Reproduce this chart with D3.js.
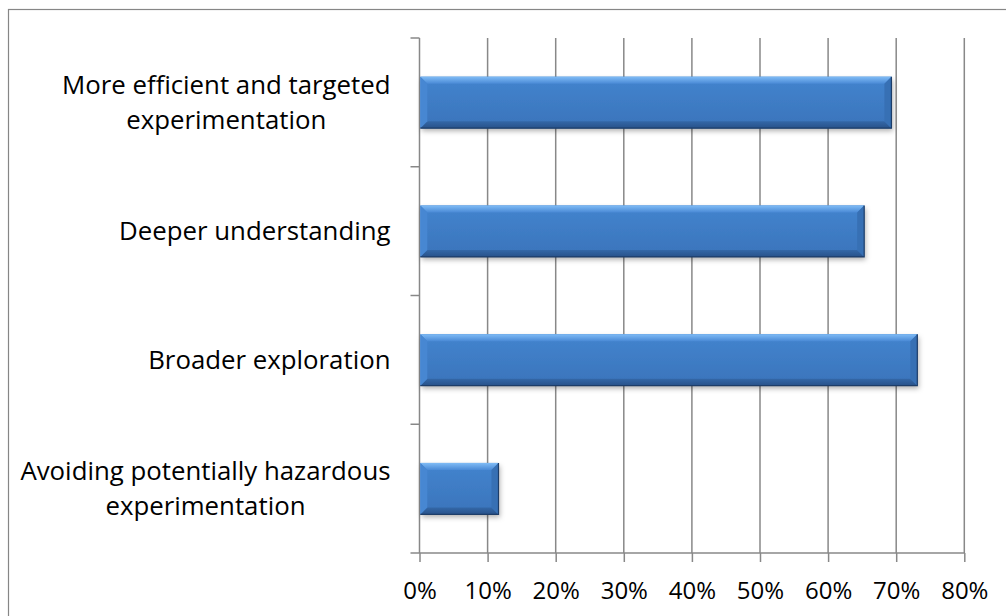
<!DOCTYPE html>
<html>
<head>
<meta charset="utf-8">
<script src="https://cdn.jsdelivr.net/npm/d3@7"></script>
<style>
  html, body { margin: 0; padding: 0; background: #fff; }
  svg { display: block; }
  text { font-family: "Open Sans", "DejaVu Sans", sans-serif; fill: #000; }
</style>
</head>
<body>
<svg id="chart" width="1006" height="616"></svg>
<script>
const categories = [
  "More efficient and targeted\nexperimentation",
  "Deeper understanding",
  "Broader exploration",
  "Avoiding potentially hazardous\nexperimentation"
];
const values = [0.693, 0.653, 0.731, 0.116];
const tickValues = [0, 0.1, 0.2, 0.3, 0.4, 0.5, 0.6, 0.7, 0.8];

const svg = d3.select("#chart");
const plot = { left: 419.5, right: 964.3, top: 38, bottom: 553 };

const x = d3.scaleLinear().domain([0, 0.8]).range([plot.left, plot.right]);
const y = d3.scaleBand().domain(categories).range([plot.top, plot.bottom])
  .paddingInner(0.6).paddingOuter(0.3);

// outer border
svg.append("rect").attr("x", 8.5).attr("y", 9.5).attr("width", 1010).attr("height", 620)
  .attr("fill", "#fff").attr("stroke", "#868686").attr("stroke-width", 1.2);

const defs = svg.append("defs");
const gradBody = defs.append("linearGradient").attr("id", "gBody").attr("x1", 0).attr("y1", 0).attr("x2", 0).attr("y2", 1);
gradBody.append("stop").attr("offset", "0%").attr("stop-color", "#4384ce");
gradBody.append("stop").attr("offset", "100%").attr("stop-color", "#3a74bb");
const gradTop = defs.append("linearGradient").attr("id", "gTop").attr("x1", 0).attr("y1", 0).attr("x2", 0).attr("y2", 1);
gradTop.append("stop").attr("offset", "0%").attr("stop-color", "#80bcf6");
gradTop.append("stop").attr("offset", "100%").attr("stop-color", "#4a8ad6");
const gradBot = defs.append("linearGradient").attr("id", "gBot").attr("x1", 0).attr("y1", 0).attr("x2", 0).attr("y2", 1);
gradBot.append("stop").attr("offset", "0%").attr("stop-color", "#3468a8");
gradBot.append("stop").attr("offset", "100%").attr("stop-color", "#28528a");
const filt = defs.append("filter").attr("id", "shadow").attr("x", "-10%").attr("y", "-20%").attr("width", "120%").attr("height", "160%");
filt.append("feDropShadow").attr("dx", 1.5).attr("dy", 3).attr("stdDeviation", 2.4)
  .attr("flood-color", "#000").attr("flood-opacity", 0.3);

// gridlines
const grid = svg.append("g");
grid.selectAll("line").data(tickValues.slice(1)).join("line")
  .attr("x1", d => x(d)).attr("x2", d => x(d))
  .attr("y1", plot.top).attr("y2", plot.bottom)
  .attr("stroke", "#888").attr("stroke-width", 1.5);

// x axis
const xAxis = d3.axisBottom(x).tickValues(tickValues).tickFormat(d3.format(".0%"))
  .tickSizeInner(9).tickSizeOuter(0).tickPadding(20);
const gx = svg.append("g").attr("transform", `translate(0,${plot.bottom})`).call(xAxis);
gx.select(".domain").attr("stroke", "#888").attr("stroke-width", 1.5)
  .attr("d", `M${plot.left - 9},0H${plot.right}`);
gx.selectAll(".tick line").attr("stroke", "#888").attr("stroke-width", 1.5);
gx.selectAll(".tick text").attr("font-size", 24).attr("font-family", "Open Sans").attr("fill", "#000");

// y axis line + ticks at category boundaries
const gy = svg.append("g");
gy.append("line").attr("x1", plot.left).attr("x2", plot.left)
  .attr("y1", plot.top).attr("y2", plot.bottom)
  .attr("stroke", "#888").attr("stroke-width", 1.5);
const bounds = d3.range(categories.length).map(i => plot.top + i * y.step());
gy.selectAll("line.tk").data(bounds).join("line").attr("class", "tk")
  .attr("x1", plot.left - 9).attr("x2", plot.left)
  .attr("y1", d => d).attr("y2", d => d)
  .attr("stroke", "#888").attr("stroke-width", 1.5);

// category labels
const labelRight = 390.5, lineH = 34.5, fs = 25.8;
categories.forEach(c => {
  const lines = c.split("\n");
  const cy = y(c) + y.bandwidth() / 2;
  const t = svg.append("text").attr("font-size", fs).attr("text-anchor", "middle");
  const tspans = lines.map(ln => t.append("tspan").text(ln));
  const widths = tspans.map(ts => ts.node().getComputedTextLength());
  const wmax = d3.max(widths);
  const cx = labelRight - wmax / 2;
  tspans.forEach((ts, i) => {
    ts.attr("x", cx).attr("y", cy - (lines.length - 1) * lineH / 2 + i * lineH + 9);
  });
});

// bars
const bv = 7;
const bars = svg.append("g");
categories.forEach((c, i) => {
  const x0 = x(0) + 0.8, x1 = x(values[i]), y0 = y(c), y1 = y(c) + y.bandwidth();
  const g = bars.append("g");
  g.append("rect").attr("x", x0).attr("y", y0).attr("width", x1 - x0).attr("height", y1 - y0)
    .attr("fill", "url(#gBody)").attr("filter", "url(#shadow)");
  const poly = pts => pts.map(p => p.join(",")).join(" ");
  g.append("polygon").attr("points", poly([[x0, y0], [x1, y0], [x1 - bv, y0 + bv], [x0 + bv, y0 + bv]])).attr("fill", "url(#gTop)");
  g.append("polygon").attr("points", poly([[x0, y1], [x1, y1], [x1 - bv, y1 - bv], [x0 + bv, y1 - bv]])).attr("fill", "url(#gBot)");
  g.append("polygon").attr("points", poly([[x0, y0], [x0 + bv, y0 + bv], [x0 + bv, y1 - bv], [x0, y1]])).attr("fill", "#4787d2");
  g.append("polygon").attr("points", poly([[x1, y0], [x1 - bv, y0 + bv], [x1 - bv, y1 - bv], [x1, y1]])).attr("fill", "#3770b4");
  g.append("path").attr("d", `M${x1},${y0}V${y1}H${x0}`).attr("fill", "none")
    .attr("stroke", "#1d3d68").attr("stroke-width", 1.2);
});
</script>
</body>
</html>
